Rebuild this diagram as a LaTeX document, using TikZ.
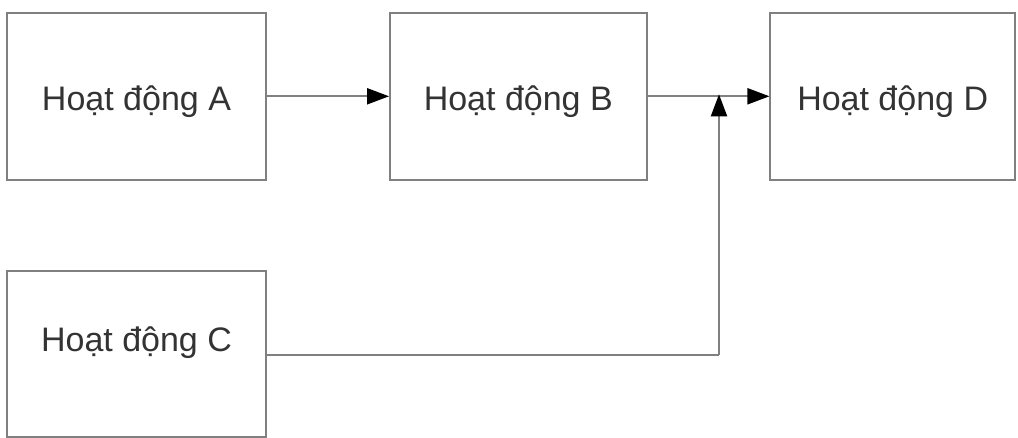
\documentclass[tikz,border=0pt]{standalone}
\usepackage{fontspec}
\setmainfont{Liberation Sans}
\usetikzlibrary{arrows.meta}
\definecolor{linegray}{HTML}{808080}
\definecolor{textgray}{HTML}{333333}
\tikzset{
  txtstyle/.style={text=textgray, font=\fontsize{34}{38}\selectfont, text height=29.4pt, text depth=0pt},
  box/.style={draw=linegray, line width=2pt, fill=white, inner sep=0pt, minimum height=167.5pt, txtstyle},
  lbl/.style={inner sep=0pt, txtstyle},
  conn/.style={draw=linegray, line width=2pt, -{Triangle[length=22pt,width=16pt,fill=black,color=black]}},
  plain/.style={draw=linegray, line width=2pt}
}
\begin{document}
\begin{tikzpicture}[x=1pt,y=-1pt]
\useasboundingbox (0,0) rectangle (1018,438);
\node[box, minimum width=259pt] (A) at (136.5,96.3) {Hoạt động A};
\node[box, minimum width=256.5pt] (B) at (518.3,96.3) {Hoạt động B};
\node[box, minimum width=244.5pt] (D) at (892.7,96.3) {Hoạt động D};
\node[box, minimum width=259pt, minimum height=166pt] (C) at (136.5,354) {};
\node[lbl] (Ct) at (136.5,337.3) {Hoạt động C};
\coordinate (J) at (719,96.3);
\coordinate (K) at (719,355);
\draw[conn] (A.east) -- (B.west);
\draw[conn] (B.east) -- (D.west);
\draw[plain] (C.east |- K) -- (K);
\draw[conn] (K) -- ([yshift=2pt]J);
\end{tikzpicture}
\end{document}
